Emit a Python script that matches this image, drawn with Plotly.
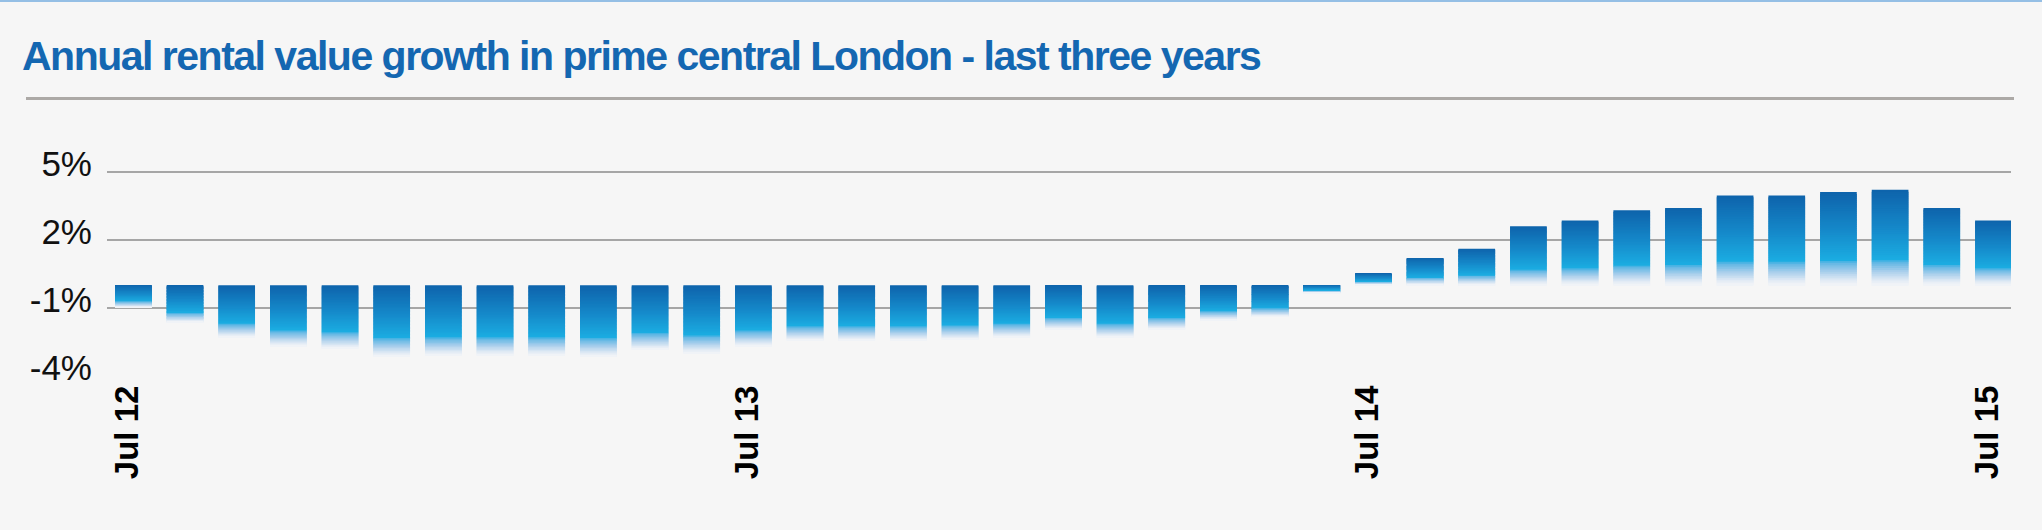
import plotly.graph_objects as go
import pandas as pd

# ---------------- data ----------------
months = [d.strftime("%b %y") for d in pd.date_range("2012-07-01", "2015-07-01", freq="MS")]
growth = [-1.0, -1.65, -2.3, -2.7, -2.8, -3.15, -3.1, -3.1, -3.1, -3.15,
          -2.85, -3.0, -2.7, -2.45, -2.45, -2.45, -2.4, -2.3, -1.95, -2.3,
          -1.95, -1.55, -1.4, -0.35, 0.5, 1.2, 1.6, 2.6, 2.85, 3.3,
          3.4, 3.95, 3.95, 4.1, 4.2, 3.4, 2.85]
y_tick_vals = [-4, -1, 2, 5]
y_tick_text = ["-4%", "-1%", "2%", "5%"]
x_tick_labels = ["Jul 12", "Jul 13", "Jul 14", "Jul 15"]
title_text = "Annual rental value growth in prime central London - last three years"

# ---------------- layout constants ----------------
W, H = 2042, 530
L, R, T, B = 107, 31, 158, 154
BG = "#f6f6f6"

# vertical gradient (screen top -> bottom of each bar)
stops = [
    (0.00, (14, 99, 171)),
    (0.40, (21, 136, 201)),
    (0.73, (27, 172, 225)),
    (0.76, (95, 182, 228)),
    (0.86, (172, 208, 236)),
    (0.95, (226, 235, 245)),
    (1.00, (243, 245, 248)),
]


def grad_color(f):
    for (f0, c0), (f1, c1) in zip(stops[:-1], stops[1:]):
        if f0 <= f <= f1:
            t = 0 if f1 == f0 else (f - f0) / (f1 - f0)
            c = [round(a + (b - a) * t) for a, b in zip(c0, c1)]
            return "rgb(%d,%d,%d)" % tuple(c)
    return "rgb(%d,%d,%d)" % stops[-1][1]


fig = go.Figure()
N = 50
tops = [max(v, 0) for v in growth]
heights = [abs(v) for v in growth]
for k in range(N):
    f0 = k / N
    f1 = min(1.0, (k + 2) / N)  # each slice overlaps the next one slightly
    fig.add_trace(go.Bar(
        x=months,
        y=[h * (f1 - f0) for h in heights],
        base=[t - h * f1 for t, h in zip(tops, heights)],
        width=0.71,
        marker=dict(color=grad_color((k + 0.5) / N), line=dict(width=0)),
        showlegend=False,
        hoverinfo="skip" if k else "x+text",
        hovertext=[f"{v:+.2f}%" for v in growth] if k == 0 else None,
    ))


def px_x(px):
    return (px - L) / (W - L - R)


def px_y(py):
    return (H - B - py) / (H - T - B)


shapes = [
    # thin blue rule along the top edge
    dict(type="line", xref="paper", yref="paper", x0=px_x(0), x1=px_x(W),
         y0=px_y(1), y1=px_y(1), line=dict(color="#95bfe5", width=2), layer="above"),
    # grey separator under the title
    dict(type="line", xref="paper", yref="paper", x0=px_x(26), x1=px_x(2014),
         y0=px_y(98.5), y1=px_y(98.5), line=dict(color="#aca9a6", width=3), layer="above"),
]

fig.update_layout(
    width=W, height=H,
    margin=dict(l=L, r=R, t=T, b=B, autoexpand=False),
    paper_bgcolor=BG, plot_bgcolor=BG,
    barmode="overlay",
    shapes=shapes,
    title=dict(
        text=f'<span style="letter-spacing:-1.5px">{title_text}</span>',
        font=dict(family="Liberation Sans", size=41, color="#1467b1", weight="bold"),
        x=22 / W, xref="container", xanchor="left",
        y=1 - 41 / H, yref="container", yanchor="top",
    ),
    xaxis=dict(
        type="category",
        categoryorder="array", categoryarray=months,
        range=[-0.51, 36.34],
        tickmode="array", tickvals=x_tick_labels, ticktext=x_tick_labels,
        tickangle=-90,
        tickfont=dict(family="Liberation Sans", size=33, color="#000000", weight="bold"),
        showgrid=False, zeroline=False, showline=False, ticks="",
        ticklabelshift=-6, ticklabelstandoff=2,
    ),
    yaxis=dict(
        range=[-4, 5.6],
        tickmode="array", tickvals=y_tick_vals, ticktext=y_tick_text,
        tickfont=dict(family="Liberation Sans", size=35, color="#111111"),
        showgrid=True, gridcolor="#a6a6a6", gridwidth=2,
        zeroline=False, showline=False, ticks="",
        ticklabelshift=-8, ticklabelstandoff=14,
    ),
)

fig.write_html(
    "out.html",
    config={"displayModeBar": False},
    post_script="document.body.style.margin='0';document.body.style.overflow='hidden';",
)
